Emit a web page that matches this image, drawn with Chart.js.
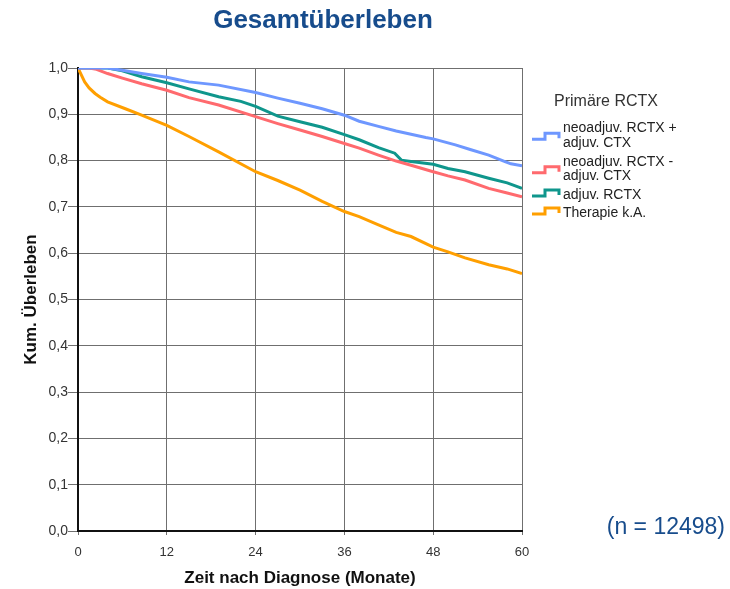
<!DOCTYPE html>
<html>
<head>
<meta charset="utf-8">
<script src="https://cdn.jsdelivr.net/npm/chart.js@4/dist/chart.umd.min.js"></script>
<style>
  html, body { margin: 0; padding: 0; background: #fff; }
  #wrap { width: 730px; height: 589px; position: relative; }
</style>
</head>
<body>
<div id="wrap"><canvas id="km" width="730" height="589"></canvas></div>
<script>
// (months, cumulative survival)
const seriesNames = ["neoadjuv. RCTX + adjuv. CTX", "neoadjuv. RCTX - adjuv. CTX", "adjuv. RCTX", "Therapie k.A."];
const legendLines = [["neoadjuv. RCTX +", "adjuv. CTX"], ["neoadjuv. RCTX -", "adjuv. CTX"], ["adjuv. RCTX"], ["Therapie k.A."]];
const seriesColors = ["#6e97ff", "#ff6a6e", "#0f968c", "#ff9f00"];

const blueMonths = [0, 4, 6, 8.6, 12, 15, 19, 24, 27, 30, 33, 36, 38, 40.6, 43, 45, 47, 48, 51, 53, 55.5, 57.7, 58.5, 60];
const blueSurv = [1.0, 1.0, 0.995, 0.988, 0.980, 0.970, 0.963, 0.947, 0.935, 0.924, 0.912, 0.898, 0.885, 0.874, 0.864, 0.857, 0.850, 0.847, 0.834, 0.824, 0.812, 0.798, 0.793, 0.789];

const redMonths = [0, 1.5, 2.5, 4, 6, 8.6, 12, 15, 19, 24, 27, 30, 33, 36, 38, 40.6, 43, 45, 48, 50, 52.3, 55.5, 58, 60];
const redSurv = [1.0, 1.0, 0.997, 0.988, 0.978, 0.966, 0.952, 0.936, 0.920, 0.895, 0.880, 0.866, 0.852, 0.837, 0.827, 0.812, 0.799, 0.790, 0.776, 0.767, 0.758, 0.740, 0.730, 0.722];

const tealMonths = [0, 4, 6, 8.6, 12, 15, 19, 22, 24, 27, 30, 33, 36, 38, 40.6, 42.8, 43.7, 45, 48, 50, 52.3, 55.5, 58, 60];
const tealSurv = [1.0, 1.0, 0.994, 0.981, 0.968, 0.955, 0.938, 0.928, 0.917, 0.896, 0.884, 0.872, 0.856, 0.845, 0.828, 0.816, 0.801, 0.798, 0.792, 0.783, 0.776, 0.762, 0.752, 0.740];

const orangeMonths = [0, 0.3, 0.9, 1.5, 2.3, 3, 4, 6.4, 8.6, 12, 15, 19, 24, 27, 30, 33, 36, 38, 40.6, 43, 45, 48, 50, 52.3, 55.5, 58, 60];
const orangeSurv = [1.0, 0.99, 0.970, 0.957, 0.945, 0.937, 0.927, 0.912, 0.898, 0.876, 0.852, 0.819, 0.776, 0.757, 0.736, 0.712, 0.690, 0.679, 0.661, 0.645, 0.636, 0.613, 0.603, 0.590, 0.575, 0.566, 0.556];

const xTicks = [0, 12, 24, 36, 48, 60];
const yTicks = [0, 0.1, 0.2, 0.3, 0.4, 0.5, 0.6, 0.7, 0.8, 0.9, 1.0];

const toPoints = (xs, ys) => xs.map((m, i) => ({ x: m, y: ys[i] }));
const allSeries = [
  toPoints(blueMonths, blueSurv),
  toPoints(redMonths, redSurv),
  toPoints(tealMonths, tealSurv),
  toPoints(orangeMonths, orangeSurv),
];

const FONT = "'Liberation Sans', Arial, sans-serif";
const BLUE_TEXT = "#174c8c";

// title, legend and n-count, drawn on the canvas
const extras = {
  id: "extras",
  afterDraw(chart) {
    const ctx = chart.ctx;
    ctx.save();
    ctx.fillStyle = BLUE_TEXT;
    ctx.font = "bold 26px " + FONT;
    ctx.textAlign = "center";
    ctx.textBaseline = "middle";
    ctx.fillText("Gesamtüberleben", 323, 21);

    ctx.font = "23px " + FONT;
    ctx.textAlign = "right";
    ctx.fillText("(n = 12498)", 725, 528);

    ctx.fillStyle = "#333";
    ctx.font = "16px " + FONT;
    ctx.textAlign = "left";
    ctx.fillText("Primäre RCTX", 554, 102);

    // legend rows: text line centres as in the reference
    const rowY = [[128.5, 143], [162, 176.5], [195], [213]];
    ctx.font = "14px " + FONT;
    legendLines.forEach((lines, i) => {
      const ys = rowY[i];
      const c = lines.length === 2 ? (ys[0] + ys[1]) / 2 + 0.5 : ys[0] - 2;
      ctx.strokeStyle = seriesColors[i];
      ctx.lineWidth = 3;
      ctx.beginPath();
      ctx.moveTo(532, c + 3);
      ctx.lineTo(545, c + 3);
      ctx.lineTo(545, c - 3);
      ctx.lineTo(559, c - 3);
      ctx.lineTo(559, c + 2);
      ctx.stroke();
      ctx.fillStyle = "#222";
      lines.forEach((t, k) => ctx.fillText(t, 563, ys[k]));
    });
    ctx.restore();
  },
};

new Chart(document.getElementById("km"), {
  type: "line",
  data: {
    datasets: allSeries.map((pts, i) => ({
      label: seriesNames[i],
      data: pts,
      borderColor: seriesColors[i],
      borderWidth: 3,
      pointRadius: 0,
      tension: 0,
      fill: false,
    })),
  },
  options: {
    responsive: false,
    animation: false,
    devicePixelRatio: 1,
    layout: { padding: { left: 0, right: 208, top: 68, bottom: 0 } },
    plugins: { legend: { display: false }, tooltip: { enabled: false } },
    scales: {
      x: {
        type: "linear",
        min: 0,
        max: 60,
        afterBuildTicks: (s) => { s.ticks = xTicks.map((v) => ({ value: v })); },
        afterFit: (s) => { s.height = 58; },
        grid: { color: "#6f6f6f", lineWidth: 1, tickLength: 4 },
        border: { color: "#111", width: 2 },
        ticks: { color: "#333", font: { family: FONT, size: 13 }, padding: 10, maxRotation: 0 },
        title: {
          display: true,
          text: "Zeit nach Diagnose (Monate)",
          color: "#111",
          font: { family: FONT, size: 17, weight: "bold" },
          padding: { top: 0, bottom: 0 },
        },
      },
      y: {
        min: 0,
        max: 1,
        afterBuildTicks: (s) => { s.ticks = yTicks.map((v) => ({ value: v })); },
        afterFit: (s) => { s.width = 78; },
        grid: { color: "#6f6f6f", lineWidth: 1, tickLength: 10 },
        border: { color: "#111", width: 2 },
        ticks: {
          color: "#333",
          font: { family: FONT, size: 14 },
          padding: 0,
          callback: (v) => v.toFixed(1).replace(".", ","),
        },
        title: {
          display: true,
          text: "Kum. Überleben",
          color: "#111",
          font: { family: FONT, size: 17, weight: "bold" },
          padding: { top: 21, bottom: 0 },
        },
      },
    },
  },
  plugins: [extras],
});
</script>
</body>
</html>
